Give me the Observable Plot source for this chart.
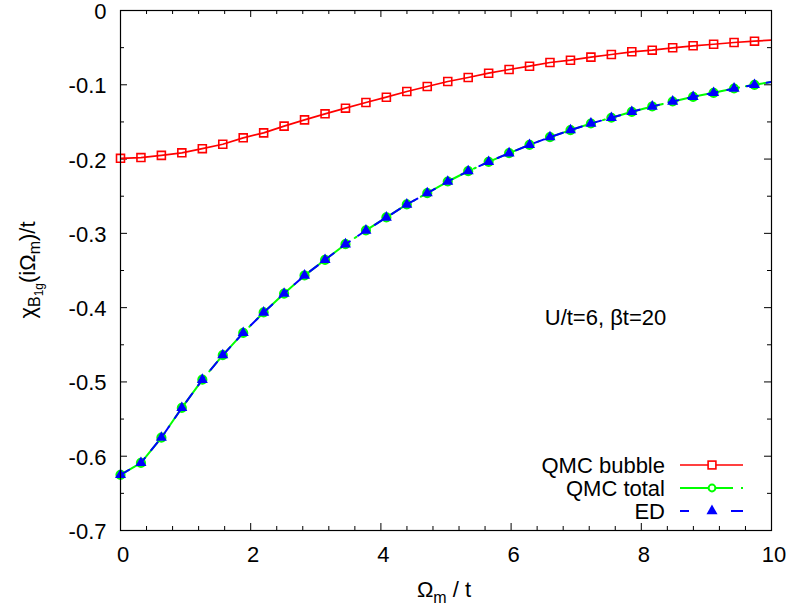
<!DOCTYPE html>
<html><head><meta charset="utf-8">
<script src="https://cdn.jsdelivr.net/npm/d3@7"></script>
<script src="https://cdn.jsdelivr.net/npm/@observablehq/plot@0.6"></script>
<style>
body{margin:0;background:#fff;}
#chart{width:788px;height:607px;}
</style></head><body><div id="chart"></div>
<script>
// Matsubara frequencies Omega_m / t
const omega = [0, 0.314, 0.628, 0.942, 1.257, 1.571, 1.885, 2.199, 2.513, 2.827, 3.142, 3.456, 3.770, 4.084, 4.398, 4.712, 5.027, 5.341, 5.655, 5.969, 6.283, 6.597, 6.912, 7.226, 7.540, 7.854, 8.168, 8.482, 8.796, 9.111, 9.425, 9.739, 10.053];
const qmcBubble = [-0.199, -0.198, -0.195, -0.1916, -0.186, -0.180, -0.1714, -0.1647, -0.1557, -0.1472, -0.1391, -0.1315, -0.1238, -0.1167, -0.109, -0.1023, -0.0956, -0.0902, -0.0844, -0.0794, -0.075, -0.070, -0.0669, -0.0628, -0.0592, -0.0556, -0.0534, -0.0502, -0.0475, -0.0454, -0.0431, -0.0413, -0.0395];
const qmcTotal = [-0.625, -0.609, -0.575, -0.535, -0.497, -0.464, -0.434, -0.4065, -0.381, -0.3567, -0.3356, -0.3146, -0.2961, -0.2786, -0.2611, -0.2459, -0.2302, -0.2163, -0.2037, -0.1921, -0.1808, -0.1705, -0.1611, -0.1521, -0.1444, -0.1364, -0.1292, -0.1225, -0.1162, -0.1108, -0.105, -0.100, -0.0955];
const edValues = [-0.625, -0.609, -0.575, -0.535, -0.497, -0.464, -0.434, -0.4065, -0.381, -0.3567, -0.3356, -0.3146, -0.2961, -0.2786, -0.2611, -0.2459, -0.2302, -0.2163, -0.2037, -0.1921, -0.1808, -0.1705, -0.1611, -0.1521, -0.1444, -0.1364, -0.1292, -0.1225, -0.1162, -0.1108, -0.105, -0.100, -0.0955];
const seriesNames = ["QMC bubble", "QMC total", "ED"];
const xTicks = [0, 2, 4, 6, 8, 10];
const xMinor = [0.4, 0.8, 1.2, 1.6, 2.4, 2.8, 3.2, 3.6, 4.4, 4.8, 5.2, 5.6, 6.4, 6.8, 7.2, 7.6, 8.4, 8.8, 9.2, 9.6];
const yTicks = [0, -0.1, -0.2, -0.3, -0.4, -0.5, -0.6, -0.7];
const yMinor = [-0.05, -0.15, -0.25, -0.35, -0.45, -0.55, -0.65];
const annotation = "U/t=6, βt=20";

const W = 788, H = 607, mL = 120, mR = 17, mT = 10, mB = 77;
const pw = W - mL - mR, ph = H - mT - mB;
const RED = "#ff0000", GREEN = "#00ff00", BLUE = "#0000ff";
const FS = 22;

const mk = arr => omega.map((x, i) => ({x, y: arr[i]}));
const bubbleData = mk(qmcBubble), totalData = mk(qmcTotal), edData = mk(edValues);
const inRange = d => d.x <= 10;

const fmtY = d => d === 0 ? "0" : d.toFixed(1);

const chart = Plot.plot({
  width: W, height: H,
  marginLeft: mL, marginRight: mR, marginTop: mT, marginBottom: mB,
  style: {fontFamily: "'Liberation Sans', Arial, sans-serif", fontSize: FS + "px", background: "white", color: "black"},
  x: {domain: [0, 10]},
  y: {domain: [-0.7, 0]},
  marks: [
    Plot.axisX({ticks: xTicks, tickSize: 0, tickPadding: 16, dx: 2.5, tickFormat: d => String(d), label: null, fontSize: FS}),
    Plot.axisY({ticks: yTicks, tickSize: 0, tickPadding: 14, dy: 1.5, tickFormat: fmtY, label: null, fontSize: FS}),
    // inward ticks on all four sides
    Plot.ruleX(xTicks, {x: d => d, insetTop: ph - 7, stroke: "black"}),
    Plot.ruleX(xTicks, {x: d => d, insetBottom: ph - 7, stroke: "black"}),
    Plot.ruleX(xMinor, {x: d => d, insetTop: ph - 4, stroke: "black"}),
    Plot.ruleX(xMinor, {x: d => d, insetBottom: ph - 4, stroke: "black"}),
    Plot.ruleY(yTicks, {y: d => d, insetRight: pw - 7, stroke: "black"}),
    Plot.ruleY(yTicks, {y: d => d, insetLeft: pw - 7, stroke: "black"}),
    Plot.ruleY(yMinor, {y: d => d, insetRight: pw - 4, stroke: "black"}),
    Plot.ruleY(yMinor, {y: d => d, insetLeft: pw - 4, stroke: "black"}),
    // QMC bubble
    Plot.line(bubbleData, {x: "x", y: "y", stroke: RED, strokeWidth: 1.7, clip: true}),
    Plot.dot(bubbleData.filter(inRange), {x: "x", y: "y", symbol: "square", r: 4.5, stroke: RED, strokeWidth: 1.6, fill: "none"}),
    // QMC total
    Plot.line(totalData, {x: "x", y: "y", stroke: GREEN, strokeWidth: 2, strokeDasharray: "53,7,2,7", clip: true}),
    Plot.dot(totalData.filter(inRange), {x: "x", y: "y", r: 4, stroke: GREEN, strokeWidth: 2.2, fill: "none"}),
    // ED
    Plot.line(edData, {x: "x", y: "y", stroke: BLUE, strokeWidth: 2, strokeDasharray: "10,10", clip: true}),
    Plot.dot(edData.filter(inRange), {x: "x", y: "y", symbol: "triangle", r: 4.1, fill: BLUE, stroke: "none"}),
    Plot.text([annotation], {frameAnchor: "top-left", dx: 605 - mL, dy: 309 - mT, textAnchor: "middle", fontSize: FS}),
    Plot.frame({stroke: "black", strokeWidth: 1.2})
  ]
});
document.getElementById("chart").appendChild(chart);

const svg = d3.select(chart);
const FONT = "'Liberation Sans', Arial, sans-serif";

// x axis title: Omega_m / t
const xt = svg.append("text").attr("x", 444).attr("y", 597).attr("text-anchor", "middle")
  .attr("font-family", FONT).attr("font-size", 22).attr("fill", "black");
xt.append("tspan").text("Ω");
xt.append("tspan").attr("font-size", 16).attr("dy", 6).text("m");
xt.append("tspan").attr("dy", -6).text(" / t");

// y axis title: chi_{B_1g}(i Omega_m)/t
const yt = svg.append("text").attr("transform", "translate(35,270) rotate(-90)").attr("text-anchor", "middle")
  .attr("font-family", FONT).attr("font-size", 22).attr("fill", "black");
yt.append("tspan").text("χ");
yt.append("tspan").attr("font-size", 16).attr("dy", 5).text("B");
yt.append("tspan").attr("font-size", 12).attr("dy", 3).text("1g");
yt.append("tspan").attr("dy", -8).text("(iΩ");
yt.append("tspan").attr("font-size", 16).attr("dy", 5).text("m");
yt.append("tspan").attr("dy", -5).text(")/t");

// legend
const legend = svg.append("g").attr("font-family", FONT).attr("font-size", FS);
const rows = [
  {name: seriesNames[0], y: 465, color: RED, dash: null, sym: "square"},
  {name: seriesNames[1], y: 488, color: GREEN, dash: "53,8,2", sym: "circle"},
  {name: seriesNames[2], y: 511, color: BLUE, dash: "9,42,12", sym: "triangle"}
];
rows.forEach(r => {
  legend.append("text").attr("x", 665).attr("y", r.y).attr("dy", "0.35em").attr("text-anchor", "end").attr("fill", "black").text(r.name);
  const ln = legend.append("line").attr("x1", 680).attr("x2", 743).attr("y1", r.y).attr("y2", r.y)
    .attr("stroke", r.color).attr("stroke-width", r.sym === "square" ? 1.7 : 2);
  if (r.dash) ln.attr("stroke-dasharray", r.dash);
  if (r.sym === "square") {
    legend.append("rect").attr("x", 712 - 3.9).attr("y", r.y - 3.9).attr("width", 7.8).attr("height", 7.8)
      .attr("fill", "white").attr("stroke", r.color).attr("stroke-width", 1.6);
  } else if (r.sym === "circle") {
    legend.append("circle").attr("cx", 712).attr("cy", r.y).attr("r", 3.4).attr("fill", "white")
      .attr("stroke", r.color).attr("stroke-width", 2);
  } else {
    legend.append("path").attr("transform", `translate(712,${r.y})`)
      .attr("d", d3.symbol(d3.symbolTriangle, 4.1 * 4.1 * Math.PI)()).attr("fill", r.color);
  }
});
</script>
</body></html>
